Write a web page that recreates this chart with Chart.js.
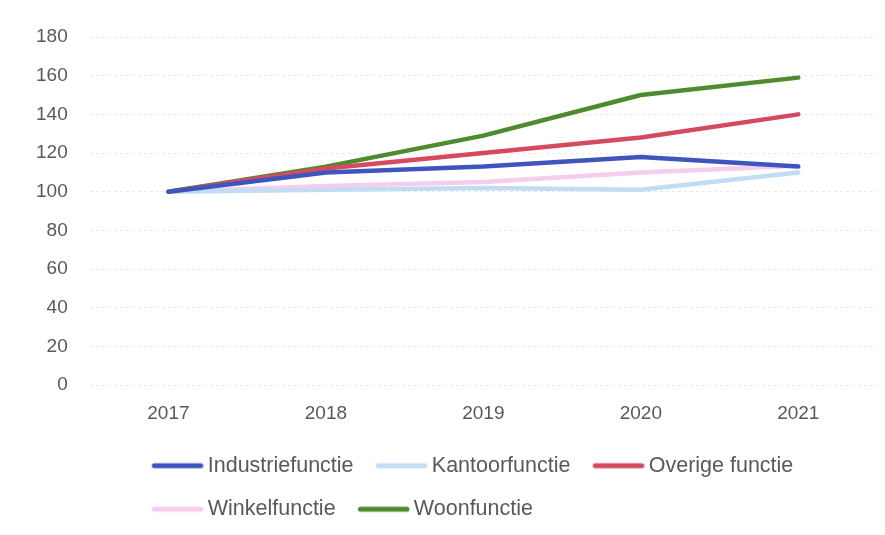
<!DOCTYPE html>
<html>
<head>
<meta charset="utf-8">
<script src="https://cdn.jsdelivr.net/npm/chart.js@4/dist/chart.umd.min.js"></script>
<style>
  html, body { margin: 0; padding: 0; background: #ffffff; }
  #wrap { width: 885px; height: 535px; }
</style>
</head>
<body>
<div id="wrap"><canvas id="c" width="885" height="535"></canvas></div>
<script>
const years = ['2017', '2018', '2019', '2020', '2021'];
const industriefunctie = [100, 110, 113, 118, 113];
const kantoorfunctie = [100, 101, 102, 101, 110];
const overigeFunctie = [100, 112, 120, 128, 140];
const winkelfunctie = [100, 103, 105, 110, 113.5];
const woonfunctie = [100, 113, 129, 150, 159];
const yTicks = [0, 20, 40, 60, 80, 100, 120, 140, 160, 180];

const FONT = "'Liberation Sans', Arial, sans-serif";
const TEXT = '#595959';

// legend sample: a short thick line, drawn into a small canvas used as point style
function legendLine(color) {
  const c = document.createElement('canvas');
  c.width = 59; c.height = 8;
  const g = c.getContext('2d');
  g.strokeStyle = color;
  g.lineWidth = 5;
  g.lineCap = 'round';
  g.beginPath();
  g.moveTo(9.5, 4);
  g.lineTo(56, 4);
  g.stroke();
  return c;
}

function ds(label, data, color) {
  return {
    label, data,
    borderColor: color, backgroundColor: color,
    borderWidth: 4.5, borderCapStyle: 'round', borderJoinStyle: 'round',
    pointRadius: 0, pointHoverRadius: 0, pointStyle: legendLine(color),
    tension: 0, fill: false
  };
}

const legendShift = {
  id: 'legendShift',
  afterLayout(chart) {
    const lg = chart.legend;
    if (!lg) return;
    lg.left = 129.5;
    lg.right = 829.5;
    lg.width = 700;
    lg.top -= 9;
    lg.bottom -= 9;
  }
};

new Chart(document.getElementById('c'), {
  type: 'line',
  data: {
    labels: years,
    datasets: [
      ds('Industriefunctie', industriefunctie, '#3F55BE'),
      ds('Kantoorfunctie', kantoorfunctie, '#C2DCF3'),
      ds('Overige functie', overigeFunctie, '#D54A5E'),
      ds('Winkelfunctie', winkelfunctie, '#F7CDEF'),
      ds('Woonfunctie', woonfunctie, '#4E8A2E')
    ]
  },
  options: {
    responsive: false,
    animation: false,
    devicePixelRatio: 1,
    layout: { padding: { left: 14, right: 8, top: 37, bottom: -4 } },
    scales: {
      x: {
        offset: true,
        grid: { display: false, drawTicks: false },
        border: { display: false },
        ticks: { color: TEXT, font: { family: FONT, size: 19 }, padding: 17 }
      },
      y: {
        min: 0, max: 180,
        afterBuildTicks(axis) { axis.ticks = yTicks.map(v => ({ value: v })); },
        grid: { color: 'rgba(0,0,0,0.09)', drawTicks: false },
        border: { display: false, dash: [3, 3] },
        ticks: { color: TEXT, font: { family: FONT, size: 19 }, padding: 22 }
      }
    },
    plugins: {
      tooltip: { enabled: false },
      legend: {
        position: 'bottom',
        align: 'start',
        labels: {
          color: TEXT,
          font: { family: FONT, size: 21.5 },
          usePointStyle: true,
          pointStyleWidth: 45.5,
          padding: 22
        }
      }
    }
  },
  plugins: [legendShift]
});
</script>
</body>
</html>
